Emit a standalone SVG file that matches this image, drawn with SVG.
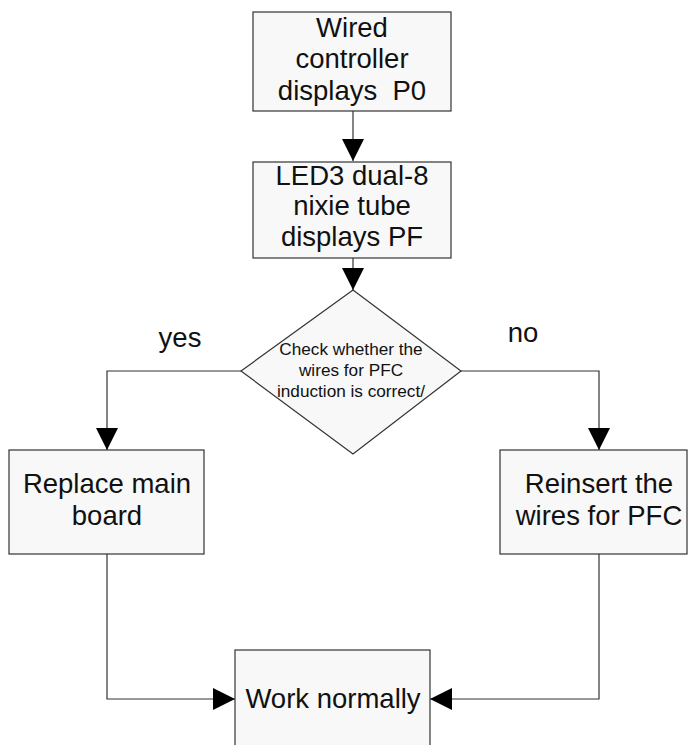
<svg xmlns="http://www.w3.org/2000/svg" width="688" height="745" viewBox="0 0 688 745">
<style>
.box{fill:#f8f8f8;stroke:#333;stroke-width:1.2}
.t{font-family:"Liberation Sans",Arial,sans-serif;font-size:27.5px;fill:#111;text-anchor:middle;white-space:pre}
.s{font-family:"Liberation Sans",Arial,sans-serif;font-size:17.2px;fill:#111;text-anchor:middle}
.c{fill:none;stroke:#333;stroke-width:1.2}
</style>
<defs>
<marker id="ah" markerUnits="userSpaceOnUse" markerWidth="22" markerHeight="22" viewBox="0 0 20 20" refX="20" refY="10" orient="auto">
<path d="M0,0 L20,10 L0,20 Z" fill="#000"/>
</marker>
</defs>
<rect width="688" height="745" fill="#fff"/>
<g id="connectors">
<path class="c" d="M353,111 V161" marker-end="url(#ah)"/>
<path class="c" d="M353,258 V290" marker-end="url(#ah)"/>
<path class="c" d="M241,371 H107 V450" marker-end="url(#ah)"/>
<path class="c" d="M461,371 H599 V450" marker-end="url(#ah)"/>
<path class="c" d="M107,554 V699 H235" marker-end="url(#ah)"/>
<path class="c" d="M599,554 V699 H430" marker-end="url(#ah)"/>
</g>
<g id="labels">
<text class="t" x="180" y="347">yes</text>
<text class="t" x="523" y="342">no</text>
</g>
<g id="n1">
<rect class="box" x="253" y="12" width="198" height="99"/>
<text class="t" x="352" y="37">Wired</text>
<text class="t" x="352" y="68">controller</text>
<text class="t" x="352" y="100" xml:space="preserve">displays  P0</text>
</g>
<g id="n2">
<rect class="box" x="253" y="162" width="198" height="96"/>
<text class="t" x="352" y="185">LED3 dual-8</text>
<text class="t" x="352" y="215">nixie tube</text>
<text class="t" x="352" y="246">displays PF</text>
</g>
<g id="n3">
<polygon class="box" points="353,290 461,371 353,454 241,371"/>
<text class="s" x="351" y="355">Check whether the</text>
<text class="s" x="351" y="376">wires for PFC</text>
<text class="s" x="351" y="397">induction is correct/</text>
</g>
<g id="n4">
<rect class="box" x="9" y="450" width="195" height="104"/>
<text class="t" x="107" y="493">Replace main</text>
<text class="t" x="107" y="525">board</text>
</g>
<g id="n5">
<rect class="box" x="500" y="450" width="187" height="104"/>
<text class="t" x="599" y="493">Reinsert the</text>
<text class="t" x="599" y="525">wires for PFC</text>
</g>
<g id="n6">
<rect class="box" x="235" y="650" width="195" height="110"/>
<text class="t" x="333" y="708">Work normally</text>
</g>
</svg>
